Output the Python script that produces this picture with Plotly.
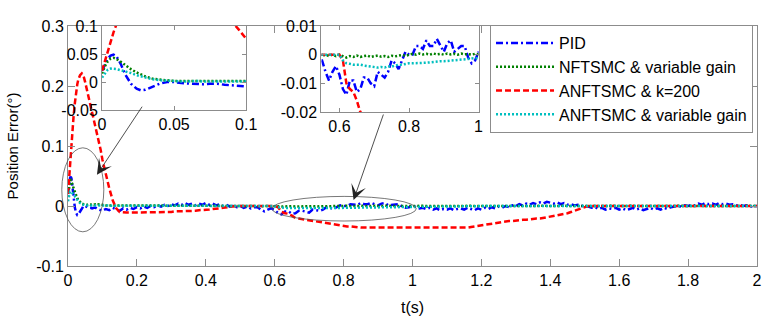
import plotly.graph_objects as go

# ---------------- data ----------------
t_fine = [0.000, 0.002, 0.004, 0.006, 0.008, 0.010, 0.013, 0.016, 0.020, 0.024,
          0.027, 0.030, 0.035, 0.040, 0.045, 0.050, 0.055, 0.060, 0.065, 0.070,
          0.075, 0.080, 0.085, 0.090, 0.095]
t_coarse = [round(0.10 + 0.01 * i, 2) for i in range(191)]   # 0.10 ... 2.00
t = t_fine + t_coarse

pid_fine = [0.020, 0.032, 0.042, 0.047, 0.049, 0.046, 0.032, 0.014, -0.003, -0.012,
            -0.015, -0.014, -0.009, -0.003, 0.000, 0.000, -0.002, -0.003, -0.003, -0.004,
            -0.003, -0.003, -0.005, -0.006, -0.007]
pid_coarse = [
    -0.008, -0.005, -0.007, -0.003, -0.006, -0.008, -0.004, -0.006, -0.003, -0.005, -0.002,
    -0.004, -0.001, -0.003, 0.000, -0.002, 0.001, -0.001, 0.002, 0.000, 0.003,
    0.001, 0.004, 0.002, 0.005, 0.002, 0.004, 0.001, 0.004, 0.002, 0.005,
    0.002, 0.004, 0.001, 0.003, 0.000, 0.002, -0.001, 0.001, -0.002, 0.000,
    -0.003, -0.001, -0.004, -0.002, -0.002, -0.006, -0.009, -0.006, -0.004, -0.007,
    -0.012, -0.014, -0.009, -0.009, -0.013, -0.012, -0.008, -0.008, -0.010, -0.011,
    -0.006, -0.007, -0.008, -0.006, -0.002, -0.003, -0.005, -0.002, 0.001, 0.000,
    0.000, 0.003, 0.003, 0.002, 0.005, 0.003, 0.003, 0.0055, 0.003, 0.001,
    0.004, 0.005, 0.001, 0.002, 0.003, 0.003, -0.001, -0.003, -0.002, 0.001,
    -0.002, -0.004, -0.003, -0.005, -0.003, -0.006, -0.004, -0.007, -0.005, -0.006,
    -0.004, -0.007, -0.005, -0.004, -0.006, -0.003, -0.005, -0.007, -0.004, -0.006,
    -0.003, -0.005, -0.002, -0.004, -0.001, -0.003, 0.000, -0.002, 0.001, 0.000,
    0.003, 0.001, 0.004, 0.002, 0.005, 0.003, 0.006, 0.004, 0.007, 0.005,
    0.004, 0.006, 0.003, 0.005, 0.002, 0.003, 0.001, 0.002, 0.000, 0.001,
    -0.001, -0.003, -0.002, -0.005, -0.003, -0.006, -0.004, -0.005, -0.003, -0.006,
    -0.004, -0.007, -0.005, -0.003, -0.006, -0.004, -0.007, -0.005, -0.003, -0.006,
    -0.004, -0.006, -0.003, -0.005, -0.002, -0.001, 0.000, -0.001, 0.001, 0.000,
    0.002, 0.001, 0.004, 0.002, 0.005, 0.003, 0.004, 0.002, 0.005, 0.003,
    0.004, 0.002, 0.003, 0.001, 0.002, 0.000, 0.001, -0.001, 0.000, 0.000]

nftsmc_fine = [0.015, 0.028, 0.037, 0.042, 0.043, 0.041, 0.036, 0.030, 0.023, 0.017,
               0.013, 0.010, 0.006, 0.004, 0.003, 0.002, 0.002, 0.003, 0.002, 0.003,
               0.002, 0.003, 0.002, 0.003, 0.003]
nftsmc_coarse = [
    0.002, 0.001, 0.001, 0.001, 0.000, 0.001, 0.000, 0.001, 0.000, 0.001, 0.000,
    0.001, 0.000, 0.000, 0.001, 0.000, 0.000, 0.001, 0.000, 0.000, 0.000,
    0.000, 0.001, 0.000, 0.000, 0.000, 0.001, 0.000, 0.000, 0.000, 0.000,
    0.000, 0.000, 0.001, 0.000, 0.000, 0.000, 0.000, 0.000, 0.000, 0.000,
    0.000, 0.000, 0.000, 0.000, -0.0005, 0.000, -0.0005, 0.000, -0.0005, 0.000,
    -0.0005, -0.001, -0.0005, -0.0008, -0.0003, -0.0008, -0.0005, -0.0003, -0.0008, -0.0005,
    -0.0003, -0.0007, -0.0005, -0.0008, -0.0004, -0.0006, -0.0003, -0.0001, -0.0004, 0.0000,
    0.0003, 0.0000, 0.0004, 0.0001, 0.0003, 0.0000, 0.0004, 0.0001, 0.0003, 0.0000,
    0.0004, 0.0001, 0.0003, 0.0000, 0.0004, 0.0001, 0.0002, 0.0000, 0.0003, 0.0001,
    0.0002, 0.0000, 0.0003, 0.0000, 0.0002, 0.0000, 0.0003, 0.0000, 0.0002, 0.0000,
    0.0002, 0.0000, 0.0003, 0.0000, 0.0002, 0.0000, 0.0003, 0.0000, 0.0002, 0.0000,
    0.0002, 0.0000, 0.0003, 0.0000, 0.0002, 0.0000, 0.0003, 0.0000, 0.0002, 0.0000,
    0.0002, 0.0000, 0.0003, 0.0000, 0.0002, 0.0000, 0.0003, 0.0000, 0.0002, 0.0000,
    0.0002, 0.0000, 0.0003, 0.0000, 0.0002, 0.0000, 0.0003, 0.0000, 0.0002, 0.0000,
    0.0002, 0.0000, 0.0003, 0.0000, 0.0002, 0.0000, 0.0003, 0.0000, 0.0002, 0.0000,
    0.0002, 0.0000, 0.0003, 0.0000, 0.0002, 0.0000, 0.0003, 0.0000, 0.0002, 0.0000,
    0.0002, 0.0000, 0.0003, 0.0000, 0.0002, 0.0000, 0.0003, 0.0000, 0.0002, 0.0000,
    0.0002, 0.0000, 0.0003, 0.0000, 0.0002, 0.0000, 0.0003, 0.0000, 0.0002, 0.0000,
    0.0002, 0.0000, 0.0003, 0.0000, 0.0002, 0.0000, 0.0003, 0.0000, 0.0002, 0.0000]

k200_fine = [0.020, 0.038, 0.056, 0.073, 0.089, 0.103, 0.124, 0.148, 0.172, 0.192,
             0.203, 0.211, 0.218, 0.221, 0.217, 0.206, 0.194, 0.182, 0.170, 0.158,
             0.146, 0.134, 0.122, 0.108, 0.093]
k200_coarse = [
    0.077, 0.052, 0.029, 0.009, -0.004, -0.010, -0.011, -0.011, -0.011, -0.011, -0.011,
    -0.011, -0.011, -0.011, -0.011, -0.011, -0.010, -0.010, -0.010, -0.010, -0.010,
    -0.009, -0.009, -0.009, -0.009, -0.009, -0.008, -0.008, -0.007, -0.007, -0.007,
    -0.006, -0.005, -0.005, -0.004, -0.003, -0.002, -0.001, 0.000, 0.000, 0.000,
    0.000, 0.000, 0.000, 0.000, 0.000, 0.000, 0.000, 0.000, 0.000, 0.000,
    -0.002, -0.010, -0.012, -0.013, -0.016, -0.020, -0.021, -0.022, -0.023, -0.024,
    -0.025, -0.026, -0.027, -0.028, -0.029, -0.030, -0.031, -0.032, -0.032, -0.033,
    -0.034, -0.034, -0.035, -0.035, -0.036, -0.036, -0.036, -0.037, -0.037, -0.037,
    -0.037, -0.037, -0.037, -0.037, -0.037, -0.037, -0.037, -0.037, -0.037, -0.037,
    -0.037, -0.037, -0.037, -0.037, -0.037, -0.037, -0.037, -0.037, -0.037, -0.037,
    -0.037, -0.037, -0.037, -0.037, -0.036, -0.036, -0.035, -0.034, -0.033, -0.032,
    -0.031, -0.030, -0.029, -0.029, -0.028, -0.027, -0.026, -0.025, -0.025, -0.024,
    -0.024, -0.023, -0.023, -0.022, -0.022, -0.021, -0.021, -0.020, -0.019, -0.018,
    -0.017, -0.016, -0.015, -0.013, -0.012, -0.010, -0.008, -0.006, -0.004, -0.002,
    0.000, 0.000, 0.000, 0.000, 0.000, 0.000, 0.000, 0.000, 0.000, 0.000,
    0.000, 0.000, 0.000, 0.000, 0.000, 0.000, 0.000, 0.000, 0.000, 0.000,
    0.000, 0.000, 0.000, 0.000, 0.000, 0.000, 0.000, 0.000, 0.000, 0.000,
    0.000, 0.000, 0.000, 0.000, 0.000, 0.000, 0.000, 0.000, 0.000, 0.000,
    0.000, 0.000, 0.000, 0.000, 0.000, 0.000, 0.000, 0.000, 0.000, 0.000]

anft_fine = [0.008, 0.016, 0.022, 0.024, 0.024, 0.023, 0.021, 0.019, 0.016, 0.012,
             0.010, 0.008, 0.005, 0.003, 0.002, 0.001, 0.001, 0.001, 0.002, 0.001,
             0.001, 0.002, 0.001, 0.001, 0.001]
anft_coarse = [
    0.001, 0.001, 0.0005, 0.001, 0.0005, 0.0005, 0.0005, 0.0005, 0.000, 0.0005, 0.000,
    0.0005, 0.000, 0.0005, 0.000, 0.000, 0.0005, 0.000, 0.000, 0.000, 0.000,
    0.000, 0.000, 0.000, 0.000, 0.000, 0.000, 0.000, 0.000, 0.000, 0.000,
    0.000, 0.000, 0.000, 0.000, 0.000, 0.000, 0.000, 0.000, 0.000, 0.000,
    0.000, 0.000, 0.000, 0.000, 0.000, 0.000, 0.000, 0.000, 0.000, 0.000,
    -0.002, -0.003, -0.0032, -0.0035, -0.0035, -0.0035, -0.0038, -0.004, -0.0042, -0.0045,
    -0.0045, -0.0043, -0.0045, -0.004, -0.0042, -0.0038, -0.0035, -0.0035, -0.0032, -0.003,
    -0.003, -0.003, -0.0028, -0.003, -0.0028, -0.0027, -0.0025, -0.0025, -0.0023, -0.0023,
    -0.0022, -0.002, -0.002, -0.002, -0.0018, -0.0017, -0.0015, -0.0013, -0.0012, -0.001,
    -0.001, -0.0008, -0.0007, -0.0006, -0.0005, -0.0004, -0.0003, -0.0002, -0.0001, 0.000,
    0.000, 0.000, 0.000, 0.000, 0.000, 0.000, 0.000, 0.000, 0.000, 0.000,
    0.000, 0.000, 0.000, 0.000, 0.000, 0.000, 0.000, 0.000, 0.000, 0.000,
    0.000, 0.000, 0.000, 0.000, 0.000, 0.000, 0.000, 0.000, 0.000, 0.000,
    0.000, 0.000, 0.000, 0.000, 0.000, 0.000, 0.000, 0.000, 0.000, 0.000,
    0.000, 0.000, 0.000, 0.000, 0.000, 0.000, 0.000, 0.000, 0.000, 0.000,
    0.000, 0.000, 0.000, 0.000, 0.000, 0.000, 0.000, 0.000, 0.000, 0.000,
    0.000, 0.000, 0.000, 0.000, 0.000, 0.000, 0.000, 0.000, 0.000, 0.000,
    0.000, 0.000, 0.000, 0.000, 0.000, 0.000, 0.000, 0.000, 0.000, 0.000,
    0.000, 0.000, 0.000, 0.000, 0.000, 0.000, 0.000, 0.000, 0.000, 0.000]

series_names = ["PID", "NFTSMC & variable gain", "ANFTSMC & k=200", "ANFTSMC & variable gain"]
series_values = [pid_fine + pid_coarse, nftsmc_fine + nftsmc_coarse,
                 k200_fine + k200_coarse, anft_fine + anft_coarse]

main_xticks = [0, 0.2, 0.4, 0.6, 0.8, 1.0, 1.2, 1.4, 1.6, 1.8, 2.0]
main_xtext = ["0", "0.2", "0.4", "0.6", "0.8", "1", "1.2", "1.4", "1.6", "1.8", "2"]
main_yticks = [-0.1, 0, 0.1, 0.2, 0.3]
main_ytext = ["-0.1", "0", "0.1", "0.2", "0.3"]
in1_xticks = [0, 0.05, 0.1]
in1_xtext = ["0", "0.05", "0.1"]
in1_yticks = [-0.05, 0, 0.05, 0.1]
in1_ytext = ["-0.05", "0", "0.05", "0.1"]
in2_xticks = [0.6, 0.8, 1.0]
in2_xtext = ["0.6", "0.8", "1"]
in2_yticks = [-0.02, -0.01, 0, 0.01]
in2_ytext = ["-0.02", "-0.01", "0", "0.01"]

# ---------------- styling ----------------
colors = ["#0000FF", "#008000", "#FF0000", "#00BFBF"]
dashes = ["7px,3px,2px,3px", "2px,2px", "6px,3px", "2px,2px"]
widths = [2.5, 2.5, 2.5, 2.5]
FONT = "Arial, Liberation Sans, sans-serif"
AX = "#8c8c8c"

fig = go.Figure()
for axes, show in [(("x", "y"), True), (("x2", "y2"), False), (("x3", "y3"), False)]:
    for name, vals, c, d, w in zip(series_names, series_values, colors, dashes, widths):
        fig.add_trace(go.Scatter(
            x=t, y=vals, mode="lines", name=name, showlegend=show,
            line=dict(color=c, dash=d, width=w),
            xaxis=axes[0], yaxis=axes[1], hoverinfo="skip"))


def axis(domain, rng, tv, tt, anchor, ticklen, am=True):
    return dict(domain=domain, range=rng, tickvals=tv, ticktext=tt, anchor=anchor,
                showline=True, linecolor=AX, linewidth=1, mirror="ticks",
                ticks="inside", ticklen=ticklen, tickcolor=AX, tickwidth=1,
                showgrid=False, zeroline=False, automargin=am,
                tickfont=dict(family=FONT, size=16, color="black"))


fig.update_layout(
    width=775, height=318,
    margin=dict(l=68, r=18, t=26, b=52),
    paper_bgcolor="white", plot_bgcolor="white",
    font=dict(family=FONT, size=16, color="black"),
    xaxis=axis([0, 1], [0, 2], main_xticks, main_xtext, "y", 7, am=False),
    yaxis=axis([0, 1], [-0.1, 0.3], main_yticks, main_ytext, "x", 7),
    xaxis2=axis([0.0494, 0.2587], [0, 0.1], in1_xticks, in1_xtext, "y2", 4, am=False),
    yaxis2=axis([0.65, 1.0], [-0.05, 0.1], in1_yticks, in1_ytext, "x2", 4, am=False),
    xaxis3=axis([0.3677, 0.5959], [0.548, 1.0], in2_xticks, in2_xtext, "y3", 4, am=False),
    yaxis3=axis([0.6417, 1.0], [-0.02, 0.01], in2_yticks, in2_ytext, "x3", 4, am=False),
    legend=dict(x=0.6125, y=1.004, xanchor="left", yanchor="top",
                bgcolor="white", bordercolor=AX, borderwidth=1,
                font=dict(family=FONT, size=16, color="black"),
                itemwidth=58, tracegroupgap=0),
    showlegend=True,
)
fig.layout.xaxis.title = dict(text="t(s)", font=dict(family=FONT, size=16), standoff=13)
fig.layout.yaxis.title = dict(text="Position Error(°)", font=dict(family=FONT, size=15), standoff=13)


# helpers: main-axes data coordinates -> paper fractions (main axes fill the plot area)
def px(tv):
    return (tv - 0) / (2 - 0)


def py(v):
    return (v + 0.1) / 0.4


fig.add_shape(type="circle", xref="paper", yref="paper",
              x0=px(-0.018), x1=px(0.104), y0=py(-0.043), y1=py(0.097),
              line=dict(color="#555555", width=0.8))
fig.add_shape(type="circle", xref="paper", yref="paper",
              x0=px(0.592), x1=px(1.011), y0=py(-0.025), y1=py(0.016),
              line=dict(color="#555555", width=0.8))

for tail, head in [((0.218, 0.168), (0.084, 0.052)), ((0.917, 0.155), (0.829, 0.010))]:
    fig.add_annotation(x=head[0], y=head[1], ax=tail[0], ay=tail[1],
                       xref="x", yref="y", axref="x", ayref="y",
                       text="", showarrow=True, arrowhead=3, arrowsize=3.2,
                       arrowwidth=0.8, arrowcolor="#222222")

fig.write_html("out.html", config={"displayModeBar": False},
               post_script="document.body.style.margin='0px';")
